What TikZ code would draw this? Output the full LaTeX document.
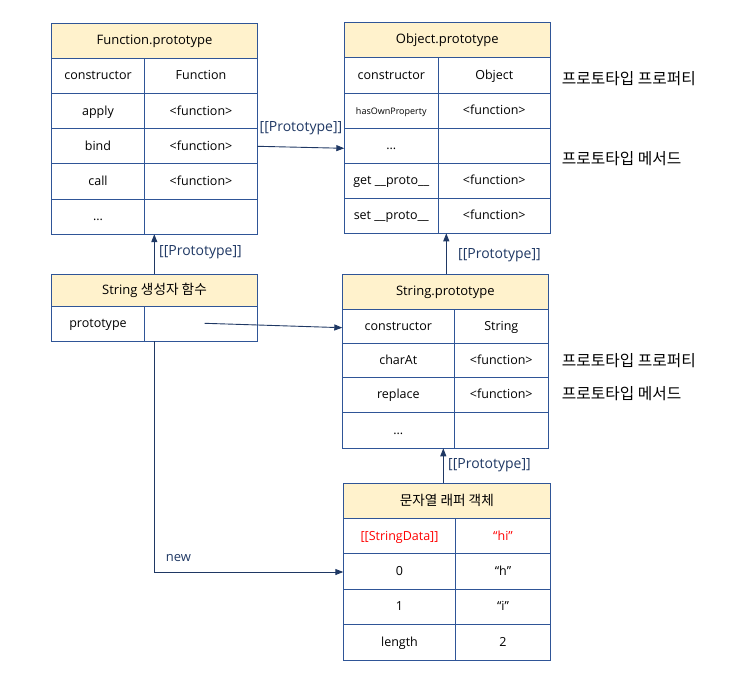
\documentclass[tikz,border=0pt]{standalone}
\usepackage{fontspec}
\setmainfont{Open Sans}
\newfontfamily\kr{Noto Sans CJK KR}[Scale=1.05]
\usetikzlibrary{arrows.meta}
\definecolor{bordc}{HTML}{2F5597}
\definecolor{headc}{HTML}{FFF2CC}
\definecolor{arrc}{HTML}{1F3864}
\definecolor{redc}{HTML}{FF0000}
\tikzset{
  cell/.style={draw=bordc, line width=0.9pt, inner sep=0pt, font=\fontsize{12.5}{15}\selectfont, text=black, text height=8pt, text depth=0pt},
  head/.style={cell, fill=headc, font=\fontsize{13}{16}\selectfont},
  conn/.style={draw=arrc, line width=0.9pt, -{Triangle[length=8pt,width=6pt]}},
  plabel/.style={text=arrc, font=\fontsize{14}{17}\selectfont, inner sep=0pt},
  side/.style={font=\kr\fontsize{15}{18}\selectfont, anchor=west, inner sep=0pt}
}
% name, x1, xm, x2, y1, y2, left text, right text
\newcommand\cellpair[8]{%
  \node[cell, minimum width={(#3-#2)*1pt}, minimum height={(#6-#5)*1pt}] (#1l) at ({(#2+#3)/2},{(#5+#6)/2}) {#7};
  \node[cell, minimum width={(#4-#3)*1pt}, minimum height={(#6-#5)*1pt}] (#1r) at ({(#3+#4)/2},{(#5+#6)/2}) {#8};
}
\newcommand\headbox[6]{% name, x1, x2, y1, y2, text
  \node[head, minimum width={(#3-#2)*1pt}, minimum height={(#5-#4)*1pt}] (#1) at ({(#2+#3)/2},{(#4+#5)/2}) {#6};
}
\begin{document}
\begin{tikzpicture}[x=1pt, y=-1pt]
\useasboundingbox (0,0) rectangle (750,680);

% Function.prototype
\headbox{fp}{51.5}{257.5}{23.3}{58.3}{Function.prototype}
\cellpair{fpa}{51.5}{144.5}{257.5}{58.3}{93.5}{constructor}{Function}
\cellpair{fpb}{51.5}{144.5}{257.5}{93.5}{128.7}{apply}{<function>}
\cellpair{fpc}{51.5}{144.5}{257.5}{128.7}{163.9}{bind}{<function>}
\cellpair{fpd}{51.5}{144.5}{257.5}{163.9}{199}{call}{<function>}
\cellpair{fpe}{51.5}{144.5}{257.5}{199}{234.2}{...}{}

% Object.prototype
\headbox{op}{344.3}{550.3}{22.3}{57.3}{Object.prototype}
\cellpair{opa}{344.3}{438.3}{550.3}{57.3}{93.3}{constructor}{Object}
\cellpair{opb}{344.3}{438.3}{550.3}{93.3}{128.3}{{\fontsize{9}{10}\selectfont hasOwnProperty}}{<function>}
\cellpair{opc}{344.3}{438.3}{550.3}{128.3}{163.3}{...}{}
\cellpair{opd}{344.3}{438.3}{550.3}{163.3}{198.3}{get \_\_proto\_\_}{<function>}
\cellpair{ope}{344.3}{438.3}{550.3}{198.3}{233.3}{set \_\_proto\_\_}{<function>}

% String constructor
\headbox{sc}{51.5}{257.5}{274.3}{306.5}{String {\kr 생성자 함수}}
\cellpair{sca}{51.5}{144.5}{257.5}{306.5}{341}{prototype}{}

% String.prototype
\headbox{sp}{342.3}{548.3}{274.3}{309.3}{String.prototype}
\cellpair{spa}{342.3}{454.3}{548.3}{309.3}{343.3}{constructor}{String}
\cellpair{spb}{342.3}{454.3}{548.3}{343.3}{377.3}{charAt}{<function>}
\cellpair{spc}{342.3}{454.3}{548.3}{377.3}{412.3}{replace}{<function>}
\cellpair{spd}{342.3}{454.3}{548.3}{412.3}{448.3}{...}{}

% wrapper object
\headbox{wo}{343.3}{550.3}{483.3}{518.7}{{\kr 문자열 래퍼 객체}}
\cellpair{woa}{343.3}{455.7}{550.3}{518.7}{553.7}{\textcolor{redc}{[[StringData]]}}{\textcolor{redc}{“hi”}}
\cellpair{wob}{343.3}{455.7}{550.3}{553.7}{589.3}{0}{“h”}
\cellpair{woc}{343.3}{455.7}{550.3}{589.3}{624.3}{1}{“i”}
\cellpair{wod}{343.3}{455.7}{550.3}{624.3}{660}{length}{2}

% side labels
\node[side] (s1) at (561.7,78.3) {프로토타입 프로퍼티};
\node[side] (s2) at (561.7,158.3) {프로토타입 메서드};
\node[side] (s3) at (561.7,360.7) {프로토타입 프로퍼티};
\node[side] (s4) at (561.7,393.3) {프로토타입 메서드};

% connectors
\coordinate (c1s) at (257.5,146.3);
\coordinate (c1e) at (344.3,148.3);
\draw[conn] (c1s) -- (c1e);
\node[plabel] (l1) at (301,128.3) {[[Prototype]]};

\coordinate (c2s) at (154.3,274.3);
\coordinate (c2e) at (154.3,234.2);
\draw[conn] (c2s) -- (c2e);
\node[plabel] (l2) at (200.5,252.5) {[[Prototype]]};

\coordinate (c3s) at (446.3,274.3);
\coordinate (c3e) at (446.3,233.3);
\draw[conn] (c3s) -- (c3e);
\node[plabel] (l3) at (499.5,255.5) {[[Prototype]]};

\coordinate (c4s) at (443.3,483.3);
\coordinate (c4e) at (443.3,448.3);
\draw[conn] (c4s) -- (c4e);
\node[plabel] (l4) at (489.5,465) {[[Prototype]]};

\coordinate (c5s) at (204.7,323.3);
\coordinate (c5e) at (342.3,327.7);
\draw[conn] (c5s) -- (c5e);

\coordinate (c6s) at (154.3,341);
\coordinate (c6e) at (343.3,572);
\draw[conn] (c6s) |- (c6e);
\node[plabel, font=\fontsize{13}{16}\selectfont] (l6) at (178.5,558) {new};
\end{tikzpicture}
\end{document}
